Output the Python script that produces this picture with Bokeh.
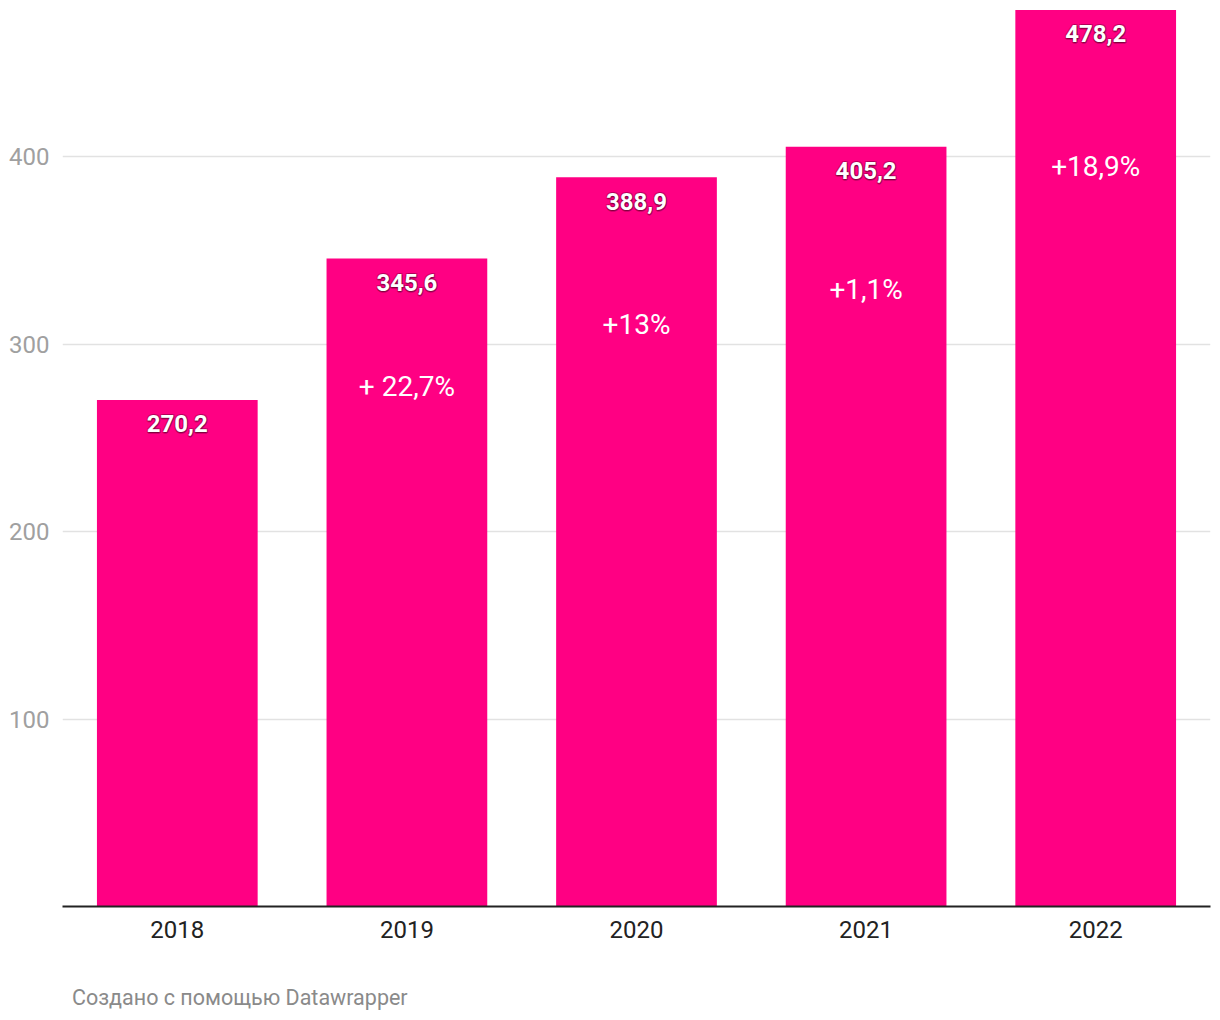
from bokeh.plotting import figure
from bokeh.layouts import column
from bokeh.models import ColumnDataSource, FactorRange, FixedTicker, Range1d
from bokeh.core.properties import value
from bokeh.embed import file_html
from bokeh.resources import INLINE

years = ["2018", "2019", "2020", "2021", "2022"]
values = [270.2, 345.6, 388.9, 405.2, 478.2]
value_labels = ["270,2", "345,6", "388,9", "405,2", "478,2"]
pct_years = ["2019", "2020", "2021", "2022"]
pct_labels = ["+ 22,7%", "+13%", "+1,1%", "+18,9%"]
pct_pos = [277.3, 310.4, 329.0, 394.7]
y_ticks = [100, 200, 300, 400]
footer = "Создано с помощью Datawrapper"

PINK = "#ff0083"
FONT = "Roboto"

p = figure(x_range=FactorRange(*years), y_range=(0, 483.2), width=1220, height=950,
           output_backend="svg", toolbar_location=None,
           min_border_left=62, min_border_right=10, min_border_top=0, min_border_bottom=44)
p.outline_line_color = None
p.background_fill_color = "white"
p.border_fill_color = "white"
p.x_range.range_padding = 0.0

src = ColumnDataSource(dict(year=years, val=values, lab=value_labels))
p.vbar(x="year", top="val", width=0.7, source=src, color=PINK, line_color=None)

# shadow/halo for value labels
for dx, dy, a in [(0, 0, 0.5), (1, 1, 0.35), (-1, 1, 0.35), (1, -1, 0.25), (-1, -1, 0.25), (0, 2, 0.25)]:
    p.text(x="year", y="val", text="lab", source=src, x_offset=dx, y_offset=24 + dy,
           text_color="#4a0020", text_alpha=a, text_font=value(FONT), text_font_style="bold",
           text_font_size="24px", text_align="center", text_baseline="middle")
p.text(x="year", y="val", text="lab", source=src, y_offset=24,
       text_color="white", text_font=value(FONT), text_font_style="bold",
       text_font_size="24px", text_align="center", text_baseline="middle")

psrc = ColumnDataSource(dict(year=pct_years, y=pct_pos, lab=pct_labels))
p.text(x="year", y="y", text="lab", source=psrc, text_color="white",
       text_font=value(FONT), text_font_size="28px", text_align="center", text_baseline="middle")

# y axis
p.yaxis.ticker = FixedTicker(ticks=y_ticks)
p.yaxis.axis_line_color = None
p.yaxis.major_tick_line_color = None
p.yaxis.minor_tick_line_color = None
p.yaxis.major_label_text_color = "#a0a0a0"
p.yaxis.major_label_text_font = FONT
p.yaxis.major_label_text_font_size = "24px"
p.yaxis.major_label_standoff = 7
p.ygrid.ticker = FixedTicker(ticks=y_ticks)
p.ygrid.grid_line_color = "#e2e2e2"
p.ygrid.grid_line_width = 1.5
p.xgrid.grid_line_color = None

# x axis
p.xaxis.axis_line_color = "#222222"
p.xaxis.axis_line_width = 2
p.xaxis.major_tick_line_color = None
p.xaxis.minor_tick_line_color = None
p.xaxis.major_label_text_color = "#222222"
p.xaxis.major_label_text_font = FONT
p.xaxis.major_label_text_font_size = "24px"
p.xaxis.major_label_standoff = 8

# footer strip
f = figure(width=1220, height=70, x_range=Range1d(0, 1220), y_range=Range1d(0, 70),
           output_backend="svg", toolbar_location=None,
           min_border_left=0, min_border_right=0, min_border_top=0, min_border_bottom=0)
f.axis.visible = False
f.grid.visible = False
f.outline_line_color = None
f.background_fill_color = "white"
f.border_fill_color = "white"
fsrc = ColumnDataSource(dict(x=[10], y=[23], t=[footer]))
f.text(x="x", y="y", text="t", source=fsrc, text_color="#8a8a8a", text_font=value(FONT),
       text_font_size="21.5px", text_baseline="middle", text_align="left")

layout = column(p, f, spacing=0)
open("out.html", "w").write(file_html(layout, INLINE))
